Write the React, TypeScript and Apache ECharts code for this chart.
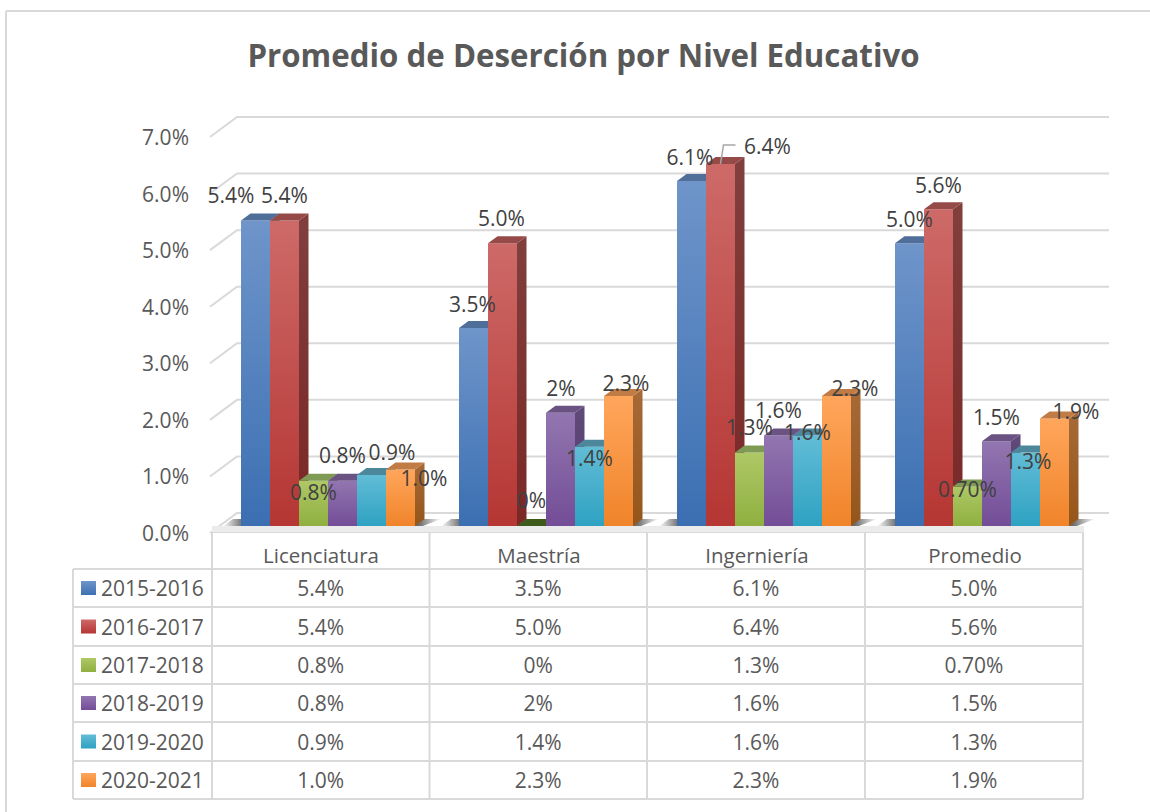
import React, { useEffect, useRef } from "react";
import * as echarts from "echarts";

const title = "Promedio de Deserción por Nivel Educativo";
const categories = ["Licenciatura", "Maestría", "Ingerniería", "Promedio"];
const seriesNames = ["2015-2016", "2016-2017", "2017-2018", "2018-2019", "2019-2020", "2020-2021"];
const yTicks = [0, 1, 2, 3, 4, 5, 6, 7];

const values2015 = [5.4, 3.5, 6.1, 5.0];
const values2016 = [5.4, 5.0, 6.4, 5.6];
const values2017 = [0.8, 0, 1.3, 0.7];
const values2018 = [0.8, 2, 1.6, 1.5];
const values2019 = [0.9, 1.4, 1.6, 1.3];
const values2020 = [1.0, 2.3, 2.3, 1.9];

const labels2015 = ["5.4%", "3.5%", "6.1%", "5.0%"];
const labels2016 = ["5.4%", "5.0%", "6.4%", "5.6%"];
const labels2017 = ["0.8%", "0%", "1.3%", "0.70%"];
const labels2018 = ["0.8%", "2%", "1.6%", "1.5%"];
const labels2019 = ["0.9%", "1.4%", "1.6%", "1.3%"];
const labels2020 = ["1.0%", "2.3%", "2.3%", "1.9%"];

const allValues = [values2015, values2016, values2017, values2018, values2019, values2020];
const allLabels = [labels2015, labels2016, labels2017, labels2018, labels2019, labels2020];

// Layout constants (label nudges from each bar's top-centre, [series][category] = [dx, dy])
const labelNudges: number[][][] = [
  [[-24.5, -25.5], [-1, -24], [-1.5, -24], [0, -24.5]],
  [[0, -25.5], [-1, -25.5], [47, -18], [0, -24.6]],
  [[0, 11], [0, -26], [0, -25.5], [0, 3]],
  [[0, -26], [0.5, -25], [0, -25], [0, -24]],
  [[20.5, -23], [0, 11], [0, -3.6], [2.5, 8.5]],
  [[23.5, 8.5], [7.5, -13], [18.5, -8], [21.5, -7.6]],
];

const FONT = "'Open Sans', sans-serif";
const frontColors = [
  ["#6f95ca", "#3b6fb2"],
  ["#cd6a68", "#b53633"],
  ["#aec866", "#8fb040"],
  ["#9276b0", "#734d97"],
  ["#62bcd6", "#2ea2c2"],
  ["#ffa65c", "#f0842a"],
];
const sideColors = [
  ["#4a6c98", "#2c5286"],
  ["#803f3d", "#7a2826"],
  ["#7f9a4a", "#6a8430"],
  ["#5f4a78", "#563a72"],
  ["#4a8ea2", "#227a92"],
  ["#a76a38", "#95561a"],
];
const topColors = ["#4f6f9a", "#954a48", "#7f9a55", "#6a5382", "#4d879c", "#c17b45"];

const GRID = { left: 212, top: 137, width: 872, height: 396 };
const DEPTH = { x: 25, y: 20 };
const BAR_W = 29;
const BAR_DX = 9.5;
const BAR_DY = 7;
const BAR_SHIFT_Y = -7;
const GROUP_SHIFT = 29;
const LINE = "#d9d9d9";

const tableCols = [73, 212, 429.5, 647, 865, 1083];
const tableRows = [532, 569, 607, 646, 684, 722, 761, 799];

function grad(c: string[]) {
  return new echarts.graphic.LinearGradient(0, 0, 0, 1, [
    { offset: 0, color: c[0] },
    { offset: 1, color: c[1] },
  ]);
}

export default function App() {
  const ref = useRef<HTMLDivElement>(null);
  useEffect(() => {
    const chart = echarts.init(ref.current!, undefined, { renderer: "svg" });

    const barData: number[][] = [];
    allValues.forEach((vals, s) => vals.forEach((v, c) => barData.push([c, v, s])));

    const tableGraphics: any[] = [];
    const addLine = (x1: number, y1: number, x2: number, y2: number) =>
      tableGraphics.push({
        type: "line",
        silent: true,
        shape: { x1, y1, x2, y2 },
        style: { stroke: LINE, lineWidth: 2 },
      });
    addLine(6, 11, 1150, 11);
    addLine(6, 11, 6, 812);
    tableRows.forEach((y, i) => addLine(i < 1 ? tableCols[1] : tableCols[0], y, tableCols[5], y));
    tableCols.forEach((x, i) => addLine(x, i === 0 ? tableRows[1] : tableRows[0], x, tableRows[7]));
    seriesNames.forEach((name, s) => {
      const mid = (tableRows[s + 1] + tableRows[s + 2]) / 2;
      tableGraphics.push({
        type: "rect",
        silent: true,
        shape: { x: 81, y: mid - 7, width: 15, height: 14 },
        style: { fill: grad(frontColors[s]) },
      });
      tableGraphics.push({
        type: "text",
        silent: true,
        x: 101,
        y: mid,
        style: { text: name, font: `21px ${FONT}`, fill: "#595959", verticalAlign: "middle", textAlign: "left" },
      });
      allLabels[s].forEach((t, c) => {
        tableGraphics.push({
          type: "text",
          silent: true,
          x: (tableCols[c + 1] + tableCols[c + 2]) / 2,
          y: mid,
          style: { text: t, font: `21px ${FONT}`, fill: "#595959", verticalAlign: "middle", textAlign: "center" },
        });
      });
    });

    const option: any = {
      animation: false,
      backgroundColor: "#ffffff",
      title: {
        text: title,
        left: 578.5,
        top: 34,
        textAlign: "center",
        textStyle: { fontFamily: FONT, fontSize: 31.25, fontWeight: "bold", color: "#595959" },
      },
      grid: { ...GRID },
      xAxis: {
        type: "category",
        data: categories,
        axisLine: { show: false },
        axisTick: { show: false },
        axisLabel: { fontFamily: FONT, fontSize: 20.5, color: "#595959", margin: 11, interval: 0 },
      },
      yAxis: {
        type: "value",
        min: 0,
        max: 7,
        interval: 1,
        axisLine: { show: false },
        axisTick: { show: false },
        splitLine: { show: false },
        axisLabel: {
          fontFamily: FONT,
          fontSize: 21,
          color: "#595959",
          margin: 23,
          formatter: (v: number) => v.toFixed(1) + "%",
        },
      },
      graphic: tableGraphics,
      series: [
        {
          type: "custom",
          silent: true,
          z: 1,
          data: yTicks.map((t) => [0, t]),
          encode: { x: 0, y: 1 },
          renderItem: (_p: any, api: any) => {
            const pt = api.coord([0, api.value(1)]);
            const y = pt[1];
            const sz = api.size([1, 0]);
            const x0 = pt[0] - sz[0] / 2;
            const xR = x0 + sz[0] * 4 + DEPTH.x;
            return {
              type: "polyline",
              shape: { points: [[x0 - 2, y], [x0 + DEPTH.x, y - DEPTH.y], [xR, y - DEPTH.y]] },
              style: { stroke: LINE, lineWidth: 2, fill: "none" },
            };
          },
        },
        {
          type: "custom",
          silent: true,
          z: 2,
          data: categories.map((_, c) => [c, 0]),
          encode: { x: 0, y: 1 },
          renderItem: (_p: any, api: any) => {
            const pt = api.coord([api.value(0), 0]);
            const sz = api.size([1, 0]);
            const left = pt[0] - sz[0] / 2 + GROUP_SHIFT;
            const base = pt[1] + BAR_SHIFT_Y;
            const right = left + BAR_W * 6;
            return {
              type: "group",
              children: [
                {
                  type: "polygon",
                  shape: {
                    points: [
                      [left - 18, base],
                      [right + 8, base],
                      [right + 26, base - BAR_DY],
                      [left - 8, base - BAR_DY],
                    ],
                  },
                  style: {
                    fill: new echarts.graphic.LinearGradient(0, 0, 1, 0, [
                      { offset: 0, color: "rgba(60,60,60,0)" },
                      { offset: 0.09, color: "rgba(60,60,60,0.75)" },
                      { offset: 0.9, color: "rgba(60,60,60,0.75)" },
                      { offset: 1, color: "rgba(60,60,60,0)" },
                    ]),
                  },
                },
                {
                  type: "rect",
                  shape: { x: pt[0] - sz[0] / 2, y: base, width: sz[0], height: 6 },
                  style: { fill: "#ebebeb" },
                },
              ],
            };
          },
        },
        {
          type: "custom",
          silent: true,
          z: 3,
          data: barData,
          encode: { x: 0, y: 1 },
          renderItem: (_p: any, api: any) => {
            const c = api.value(0);
            const v = api.value(1);
            const s = api.value(2);
            const top = api.coord([c, v]);
            const base = api.coord([c, 0]);
            const sz = api.size([1, 0]);
            const x = top[0] - sz[0] / 2 + GROUP_SHIFT + BAR_W * s;
            const yT = top[1] + BAR_SHIFT_Y;
            const yB = base[1] + BAR_SHIFT_Y;
            const children: any[] = [];
            if (v > 0) {
              children.push({
                type: "polygon",
                shape: {
                  points: [
                    [x + BAR_W, yT],
                    [x + BAR_W + BAR_DX, yT - BAR_DY],
                    [x + BAR_W + BAR_DX, yB - BAR_DY],
                    [x + BAR_W, yB],
                  ],
                },
                style: { fill: grad(sideColors[s]) },
              });
              children.push({
                type: "rect",
                shape: { x, y: yT, width: BAR_W, height: yB - yT },
                style: { fill: grad(frontColors[s]) },
              });
            }
            children.push({
              type: "polygon",
              shape: {
                points: [
                  [x, yT],
                  [x + BAR_DX, yT - BAR_DY],
                  [x + BAR_W + BAR_DX, yT - BAR_DY],
                  [x + BAR_W, yT],
                ],
              },
              style: { fill: v > 0 ? topColors[s] : "#3d5a1a" },
            });
            return { type: "group", children };
          },
        },
        {
          type: "custom",
          silent: true,
          z: 4,
          data: barData,
          encode: { x: 0, y: 1 },
          renderItem: (_p: any, api: any) => {
            const c = api.value(0);
            const v = api.value(1);
            const s = api.value(2);
            const top = api.coord([c, v]);
            const sz = api.size([1, 0]);
            const cx = top[0] - sz[0] / 2 + GROUP_SHIFT + BAR_W * s + BAR_W / 2;
            const yT = top[1] + BAR_SHIFT_Y;
            const [dx, dy] = labelNudges[s][c];
            const children: any[] = [
              {
                type: "text",
                x: cx + dx,
                y: yT + dy,
                style: {
                  text: allLabels[s][c],
                  font: `21px ${FONT}`,
                  fill: "#404040",
                  textAlign: "center",
                  verticalAlign: "middle",
                },
              },
            ];
            if (s === 1 && c === 2) {
              children.push({
                type: "polyline",
                shape: { points: [[cx, yT], [cx + 3, yT - 19], [cx + 15, yT - 19]] },
                style: { stroke: "#a6a6a6", lineWidth: 1.5, fill: "none" },
              });
            }
            return { type: "group", children };
          },
        },
      ],
    };
    chart.setOption(option);
    return () => chart.dispose();
  }, []);
  return <div ref={ref} style={{ width: 1150, height: 812, position: "absolute", left: 0, top: 0 }} />;
}
